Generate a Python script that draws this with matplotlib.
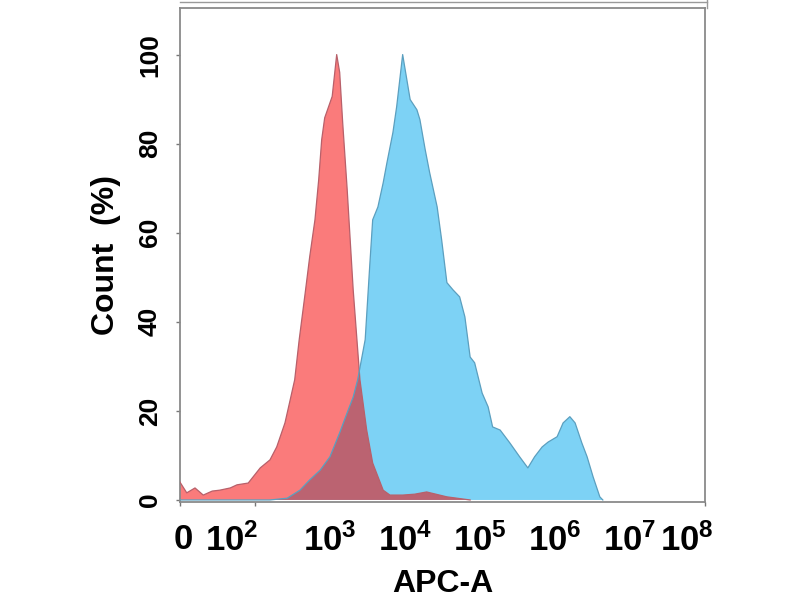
import numpy as np
import matplotlib
matplotlib.use("Agg")
import matplotlib.pyplot as plt
from matplotlib.patches import Polygon
from matplotlib.lines import Line2D

plt.rcParams['font.family'] = ['Liberation Sans', 'DejaVu Sans']
plt.rcParams['font.weight'] = 'bold'
plt.rcParams['mathtext.fontset'] = 'custom'
plt.rcParams['mathtext.rm'] = 'Liberation Sans:bold'
plt.rcParams['mathtext.bf'] = 'Liberation Sans:bold'
plt.rcParams['mathtext.default'] = 'rm'

# isotype control (red): log10(APC-A), count %
ctrl_log = [1.00, 1.09, 1.20, 1.31, 1.43, 1.53, 1.67, 1.76, 1.91, 2.07, 2.20, 2.29,
            2.40, 2.47, 2.53, 2.59, 2.67, 2.73, 2.80, 2.85, 2.89, 2.93, 3.03, 3.09,
            3.13, 3.17, 3.23, 3.27, 3.31, 3.36, 3.40, 3.49, 3.57, 3.71, 3.80, 3.97,
            4.13, 4.29, 4.56, 4.87]
ctrl_pct = [4.0, 1.6, 2.7, 1.1, 2.0, 2.2, 2.7, 3.4, 3.8, 7.2, 9.0, 11.9,
            17.3, 22.5, 27.0, 36.0, 46.5, 54.6, 62.9, 71.9, 80.9, 85.8, 90.6, 100.0,
            96.0, 84.7, 69.7, 58.4, 47.2, 36.0, 27.0, 15.7, 8.3, 2.2, 1.1, 1.1,
            1.3, 1.8, 0.7, 0.0]

# stained sample (blue)
stain_log = [1.00, 2.20, 2.43, 2.60, 2.73, 2.87, 3.00, 3.13, 3.23, 3.31, 3.37, 3.47,
             3.53, 3.57, 3.64, 3.71, 3.76, 3.84, 3.89, 3.97, 4.07, 4.16, 4.20, 4.27,
             4.33, 4.43, 4.49, 4.56, 4.64, 4.73, 4.80, 4.87, 4.93, 5.03, 5.11, 5.17,
             5.27, 5.40, 5.53, 5.64, 5.73, 5.83, 5.91, 6.03, 6.11, 6.20, 6.27, 6.36,
             6.43, 6.51, 6.60, 6.64]
stain_pct = [0.0, 0.0, 0.4, 2.2, 4.5, 6.7, 9.7, 15.1, 19.6, 23.1, 27.0, 36.0,
             52.4, 62.9, 65.8, 71.2, 75.7, 82.5, 88.3, 100.0, 89.9, 87.6, 85.4, 78.7,
             73.5, 65.8, 58.4, 48.8, 47.2, 45.6, 41.1, 32.1, 30.8, 24.0, 20.9, 16.4,
             15.7, 12.8, 9.7, 7.2, 9.7, 11.9, 13.0, 14.2, 17.3, 18.7, 17.3, 12.8,
             9.7, 5.2, 0.7, 0.0]

xtick_pos = [10**1.04, 10**1.69, 1e3, 1e4, 1e5, 1e6, 1e7, 10**7.76]
xtick_labels = ['0', r'$10^2$', r'$10^3$', r'$10^4$', r'$10^5$', r'$10^6$', r'$10^7$', r'$10^8$']
decades = [1e1, 1e2, 1e3, 1e4, 1e5, 1e6, 1e7, 1e8]
yticks = [0, 20, 40, 60, 80, 100]

ctrl_x = 10 ** np.array(ctrl_log)
stain_x = 10 ** np.array(stain_log)

fig = plt.figure(figsize=(8, 6), dpi=100)
ax = fig.add_axes([0.225, 0.163, 0.656, 0.824])

red = '#fa7b7b'
blue = '#7dd2f5'
mauve = '#bb6371'

ax.fill_between(ctrl_x, ctrl_pct, 0, color=red, edgecolor='none', zorder=2)
ax.fill_between(stain_x, stain_pct, 0, color=blue, edgecolor='none', zorder=3)

# overlap: the control area clipped to the stained area
blue_poly = Polygon(np.column_stack([np.r_[stain_x, stain_x[::-1]],
                                     np.r_[stain_pct, np.zeros(len(stain_pct))]]),
                    closed=True, facecolor='none', edgecolor='none',
                    transform=ax.transData)
ax.add_patch(blue_poly)
ov = ax.fill_between(ctrl_x, ctrl_pct, 0, color=mauve, edgecolor='none', zorder=4)
ov.set_clip_path(blue_poly)

ax.plot(ctrl_x, ctrl_pct, color='#b8606a', lw=0.9, zorder=5)
ax.plot(stain_x, stain_pct, color='#5b9fbf', lw=0.9, zorder=5)

ax.set_xscale('log')
ax.set_xlim(1e1, 1e8)
ax.set_ylim(-0.5, 110.5)

ax.xaxis.set_minor_locator(matplotlib.ticker.FixedLocator(decades))
ax.xaxis.set_minor_formatter(matplotlib.ticker.NullFormatter())
ax.set_xticks(xtick_pos, xtick_labels)
ax.tick_params(axis='x', which='major', length=0, labelsize=25, pad=15)
ax.tick_params(axis='x', which='minor', length=3, width=1, color='#777777')

ax.set_yticks(yticks)
ax.tick_params(axis='y', length=3, width=1, color='#777777', labelsize=19,
               labelrotation=90, pad=10)
for lab in ax.get_yticklabels():
    lab.set_verticalalignment('center')

for s in ax.spines.values():
    s.set_color('#8a8a8a')
    s.set_linewidth(1.3)

fig.text(0.554, 0.027, 'APC-A', fontsize=23, fontweight='bold',
         ha='center', va='center')
ax.set_ylabel('Count  (%)', fontsize=23, fontweight='bold', labelpad=12)

# frame remnants above the axes
fig.add_artist(Line2D([0.225, 0.884], [0.996, 0.996], color='#9a9a9a', lw=1.0))
fig.add_artist(Line2D([0.884, 0.884], [0.987, 1.0], color='#9a9a9a', lw=1.0))

fig.savefig('out.png', dpi=100)
